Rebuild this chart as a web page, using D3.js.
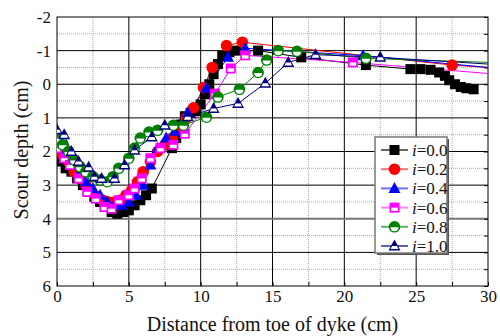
<!DOCTYPE html>
<html>
<head>
<meta charset="utf-8">
<script src="https://cdn.jsdelivr.net/npm/d3@7"></script>
<style>
  body { margin: 0; background: #fff; }
  text { font-family: "Liberation Serif", "Times New Roman", serif; fill: #111; }
</style>
</head>
<body>
<div id="chart"></div>
<script>
// series: [distance cm, scour depth cm]
const s00 = [[0,2.1],[0.3,2.3],[0.6,2.5],[1,2.6],[1.4,2.8],[1.8,3.0],[2.2,3.2],[2.6,3.35],[3,3.5],[3.4,3.65],[3.8,3.8],[4.2,3.85],[4.6,3.8],[5,3.75],[5.4,3.6],[5.8,3.45],[6.2,3.3],[6.6,3.1],[8,1.9],[8.3,1.6],[8.6,1.2],[8.9,0.95],[9.3,0.85],[9.7,0.8],[10,0.6],[10.3,0.3],[10.6,0.0],[10.9,-0.3],[11.2,-0.6],[11.5,-0.85],[12,-0.95],[12.5,-1.0],[14,-1.0],[17,-0.8],[21.5,-0.57],[24.6,-0.45],[25.3,-0.45],[26,-0.43],[26.6,-0.35],[27,-0.25],[27.3,-0.12],[27.7,0],[28.1,0.08],[28.5,0.12],[29,0.15]];
const s02 = [[0,1.9],[0.4,2.1],[0.8,2.3],[1.2,2.6],[1.6,2.8],[2,3.0],[2.4,3.2],[2.8,3.35],[3.2,3.45],[3.6,3.5],[4,3.5],[4.4,3.45],[4.8,3.3],[5.2,3.15],[5.6,2.9],[6,2.6],[6.5,2.3],[7,2.0],[7.5,1.8],[8,1.6],[8.5,1.3],[9,1.0],[9.5,0.7],[10.2,0.1],[10.8,-0.5],[11.8,-1.15],[12.9,-1.25],[27.5,-0.57],[30,-0.5]];
const s04 = [[0,1.8],[0.5,2.1],[1,2.4],[1.5,2.7],[2,2.9],[2.5,3.1],[3,3.3],[3.5,3.5],[4,3.6],[4.5,3.6],[5,3.5],[5.5,3.3],[6,3.0],[6.5,2.4],[7,1.9],[7.6,1.6],[8.2,1.4],[9.1,0.85],[10.4,0.12],[11.9,-0.8],[13.1,-1.07],[21.3,-0.85],[30,-0.5]];
const s06 = [[0,1.9],[0.5,2.2],[0.9,2.4],[1.5,2.8],[2.1,3.2],[2.7,3.4],[3.3,3.65],[3.8,3.7],[4.3,3.45],[5,3.3],[5.4,3.1],[5.9,2.8],[6.5,2.2],[7.2,1.9],[8.1,1.8],[8.9,1.47],[11,0.28],[12.1,-0.47],[13.1,-0.86],[20.6,-0.65],[30,-0.32]];
const s08 = [[0,1.6],[0.4,1.8],[0.8,2.0],[1.2,2.25],[1.6,2.45],[2,2.6],[2.5,2.75],[3,2.85],[3.5,2.9],[3.9,2.75],[4.3,2.5],[5,2.2],[5.4,1.9],[5.8,1.6],[6.4,1.42],[7,1.37],[8.1,1.22],[8.8,1.22],[10.4,0.98],[11.2,0.38],[12.7,0.15],[14,-0.35],[14.6,-0.72],[15.4,-1.0],[16.7,-0.98],[21.5,-0.77],[30,-0.65]];
const s10 = [[0,1.35],[0.5,1.5],[1,2.0],[1.5,2.3],[2.2,2.47],[2.6,2.75],[3.1,2.8],[4.0,2.8],[4.7,2.4],[5.4,1.96],[6.6,1.57],[7.5,1.22],[9.1,0.97],[10.9,0.72],[12.6,0.57],[14.5,-0.03],[16.1,-0.65],[18,-0.88],[22.5,-0.8],[30,-0.6]];

const labels = ['0.0', '0.2', '0.4', '0.6', '0.8', '1.0'];
const xTicks = [0, 5, 10, 15, 20, 25, 30];
const yTicks = [-2, -1, 0, 1, 2, 3, 4, 5, 6];

const series = [
    { key: labels[0], data: s00, color: '#000000', legendLine: '#666', marker: 'square' },
    { key: labels[1], data: s02, color: '#ff0000', legendLine: '#ff7070', marker: 'circle' },
    { key: labels[2], data: s04, color: '#0000ff', legendLine: '#7070ff', marker: 'triangle' },
    { key: labels[3], data: s06, color: '#ff00ff', legendLine: '#ff80ff', marker: 'halfSquare' },
    { key: labels[4], data: s08, color: '#008000', legendLine: '#60b060', marker: 'halfCircle' },
    { key: labels[5], data: s10, color: '#000080', legendLine: '#6060b0', marker: 'halfTriangle' }
];

const width = 500, height = 336;
const margin = { top: 17, right: 12, bottom: 50, left: 57 };

const svg = d3.select('#chart')
    .append('svg')
    .attr('width', width)
    .attr('height', height);

const x = d3.scaleLinear().domain([0, 30]).range([margin.left, width - margin.right]);
const y = d3.scaleLinear().domain([-2, 6]).range([margin.top, height - margin.bottom]);

// grid
const grid = svg.append('g');
grid.selectAll('.vminor')
    .data(d3.range(2.5, 30, 5))
    .enter().append('line')
    .attr('x1', d => x(d)).attr('x2', d => x(d))
    .attr('y1', y(-2)).attr('y2', y(6))
    .attr('stroke', '#aaa').attr('stroke-dasharray', '1,1');
grid.selectAll('.hminor')
    .data(d3.range(-1.5, 6, 1))
    .enter().append('line')
    .attr('x1', x(0)).attr('x2', x(30))
    .attr('y1', d => y(d)).attr('y2', d => y(d))
    .attr('stroke', '#aaa').attr('stroke-dasharray', '1,1');
grid.selectAll('.vmajor')
    .data(d3.range(5, 30, 5))
    .enter().append('line')
    .attr('x1', d => x(d)).attr('x2', d => x(d))
    .attr('y1', y(-2)).attr('y2', y(6))
    .attr('stroke', '#000');
grid.selectAll('.hmajor')
    .data(d3.range(-1, 6, 1))
    .enter().append('line')
    .attr('x1', x(0)).attr('x2', x(30))
    .attr('y1', d => y(d)).attr('y2', d => y(d))
    .attr('stroke', d => d === 4 ? '#777' : '#000')
    .attr('stroke-width', d => d === 4 ? 2 : 1);

// inner ticks
svg.append('g')
    .attr('transform', `translate(${x(30)},0)`)
    .call(d3.axisLeft(y).tickValues(d3.range(-2, 6.01, 0.5)).tickSize(4).tickFormat(''))
    .call(g => g.select('.domain').remove());
svg.append('g')
    .attr('transform', `translate(0,${y(6)})`)
    .call(d3.axisTop(x).tickValues(d3.range(0, 30.01, 2.5)).tickSize(4).tickFormat(''))
    .call(g => g.select('.domain').remove());

// axes labels
svg.append('g')
    .attr('transform', `translate(${x(0)},0)`)
    .call(d3.axisLeft(y).tickValues(yTicks).tickSize(0).tickPadding(6).tickFormat(d => String(d)))
    .call(g => g.select('.domain').remove())
    .attr('font-family', null)
    .selectAll('text').style('font-size', '17px').attr('fill', '#111');
svg.append('g')
    .attr('transform', `translate(0,${y(6)})`)
    .call(d3.axisBottom(x).tickValues(xTicks).tickSize(0).tickPadding(4))
    .call(g => g.select('.domain').remove())
    .attr('font-family', null)
    .selectAll('text').style('font-size', '17px').attr('fill', '#111');

svg.append('rect')
    .attr('x', x(0)).attr('y', y(-2))
    .attr('width', x(30) - x(0)).attr('height', y(6) - y(-2))
    .attr('fill', 'none').attr('stroke', '#000');

svg.append('text')
    .attr('x', (x(0) + x(30)) / 2)
    .attr('y', 331)
    .attr('text-anchor', 'middle')
    .style('font-size', '20px')
    .text('Distance from toe of dyke (cm)');
svg.append('text')
    .attr('transform', 'translate(28,150) rotate(-90)')
    .attr('text-anchor', 'middle')
    .style('font-size', '20px')
    .text('Scour depth (cm)');

// markers
const drawMarker = (g, type, color) => {
    if (type === 'square') {
        g.append('rect').attr('x', -5).attr('y', -5).attr('width', 10).attr('height', 10).attr('fill', color);
    } else if (type === 'circle') {
        g.append('circle').attr('r', 5.8).attr('fill', color);
    } else if (type === 'triangle') {
        g.append('path').attr('d', 'M0,-6.5L6,4.5L-6,4.5Z').attr('fill', color);
    } else if (type === 'halfSquare') {
        g.append('rect').attr('x', -5).attr('y', -5).attr('width', 10).attr('height', 10).attr('fill', color);
        g.append('rect').attr('x', -3.3).attr('y', 0).attr('width', 6.6).attr('height', 3.3).attr('fill', '#fff');
    } else if (type === 'halfCircle') {
        g.append('circle').attr('r', 5.8).attr('fill', color);
        g.append('path').attr('d', 'M-4,0.5L4,0.5A4,4 0 0 1 -4,0.5Z').attr('fill', '#fff');
    } else if (type === 'halfTriangle') {
        g.append('path').attr('d', 'M0,-6.5L6,4.5L-6,4.5Z').attr('fill', color);
        g.append('path').attr('d', 'M-2.5,0L2.5,0L3.8,3L-3.8,3Z').attr('fill', '#fff');
    }
};

svg.append('clipPath').attr('id', 'plot-clip')
    .append('rect')
    .attr('x', x(0)).attr('y', y(-2))
    .attr('width', x(30) - x(0)).attr('height', y(6) - y(-2));

const line = d3.line().x(d => x(d[0])).y(d => y(d[1]));
const plot = svg.append('g').attr('clip-path', 'url(#plot-clip)');

series.forEach(s => {
    plot.append('path')
        .datum(s.data)
        .attr('d', line)
        .attr('fill', 'none')
        .attr('stroke', s.color)
        .attr('stroke-width', 1);
});
series.forEach(s => {
    plot.selectAll(null)
        .data(s.data.filter(d => d[0] < 29.9 || s.key === '0.0'))
        .enter().append('g')
        .attr('transform', d => `translate(${x(d[0])},${y(d[1])})`)
        .each(function () { drawMarker(d3.select(this), s.marker, s.color); });
});

// legend
const lg = svg.append('g').attr('transform', 'translate(375,137)');
lg.append('rect').attr('x', 2).attr('y', 2).attr('width', 72).attr('height', 116).attr('fill', '#555');
lg.append('rect').attr('width', 72).attr('height', 116).attr('fill', '#fff').attr('stroke', '#777').attr('stroke-width', 1.5);
series.forEach((s, i) => {
    const row = lg.append('g').attr('transform', `translate(0,${13 + i * 19.2})`);
    row.append('line').attr('x1', 6).attr('x2', 33).attr('stroke', s.legendLine).attr('stroke-width', 2);
    drawMarker(row.append('g').attr('transform', 'translate(19.5,0)'), s.marker, s.color);
    const t = row.append('text').attr('x', 37).attr('y', 6).style('font-size', '17px');
    t.append('tspan').style('font-style', 'italic').text('i');
    t.append('tspan').text('=' + s.key);
});
</script>
</body>
</html>
